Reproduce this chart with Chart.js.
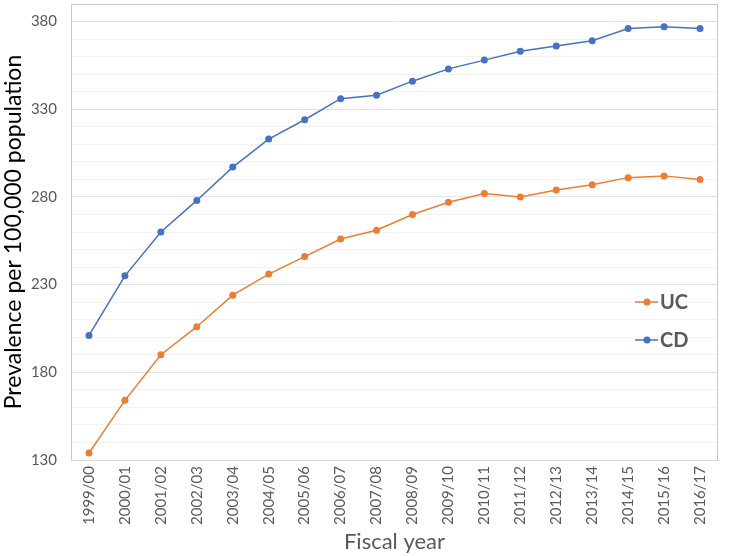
<!DOCTYPE html>
<html>
<head>
<meta charset="utf-8">
<script src="https://cdn.jsdelivr.net/npm/chart.js@4"></script>
<style>
  html, body { margin: 0; padding: 0; background: #fff; }
  #wrap { width: 729px; height: 556px; }
</style>
</head>
<body>
<div id="wrap"><canvas id="chart" width="729" height="556"></canvas></div>
<script>
// Data
var years = ['1999/00', '2000/01', '2001/02', '2002/03', '2003/04', '2004/05', '2005/06', '2006/07', '2007/08',
             '2008/09', '2009/10', '2010/11', '2011/12', '2012/13', '2013/14', '2014/15', '2015/16', '2016/17'];
var ucValues = [134, 164, 190, 206, 224, 236, 246, 256, 261, 270, 277, 282, 280, 284, 287, 291, 292, 290];
var cdValues = [201, 235, 260, 278, 297, 313, 324, 336, 338, 346, 353, 358, 363, 366, 369, 376, 377, 376];
var yMin = 130;
var yMax = 390;
var yLabelStep = 50;

var FONT = 'Lato, "Open Sans", sans-serif';

// border around the plot + the in-plot legend
var framePlugin = {
    id: 'frame',
    afterDraw: function (chart) {
        var ctx = chart.ctx;
        var a = chart.chartArea;
        ctx.save();
        ctx.strokeStyle = '#c8c8c8';
        ctx.lineWidth = 1;
        ctx.beginPath();
        ctx.moveTo(a.left + 0.5, a.bottom);
        ctx.lineTo(a.left + 0.5, a.top + 0.5);
        ctx.lineTo(a.right - 0.5, a.top + 0.5);
        ctx.lineTo(a.right - 0.5, a.bottom);
        ctx.stroke();

        var items = [
            { label: 'UC', color: '#ED7D31', y: 302 },
            { label: 'CD', color: '#4472C4', y: 340 }
        ];
        items.forEach(function (it) {
            ctx.strokeStyle = it.color;
            ctx.lineWidth = 1.5;
            ctx.beginPath();
            ctx.moveTo(635, it.y);
            ctx.lineTo(658, it.y);
            ctx.stroke();
            ctx.fillStyle = it.color;
            ctx.beginPath();
            ctx.arc(647, it.y, 3.5, 0, Math.PI * 2);
            ctx.fill();
            ctx.fillStyle = '#595959';
            ctx.font = 'bold 20px ' + FONT;
            ctx.textBaseline = 'middle';
            ctx.fillText(it.label, 660, it.y + 1);
        });
        ctx.restore();
    }
};

var ctx = document.getElementById('chart').getContext('2d');
var chart = new Chart(ctx, {
    type: 'line',
    data: {
        labels: years,
        datasets: [{
            label: 'UC',
            data: ucValues,
            borderColor: '#ED7D31',
            backgroundColor: '#ED7D31',
            borderWidth: 1.5,
            pointRadius: 3.5,
            pointBorderWidth: 0,
            tension: 0
        }, {
            label: 'CD',
            data: cdValues,
            borderColor: '#4472C4',
            backgroundColor: '#4472C4',
            borderWidth: 1.5,
            pointRadius: 3.5,
            pointBorderWidth: 0,
            tension: 0
        }]
    },
    options: {
        responsive: false,
        animation: false,
        layout: { padding: { top: 1, right: 11, left: 0, bottom: 0 } },
        plugins: {
            legend: { display: false },
            tooltip: { enabled: false }
        },
        scales: {
            x: {
                offset: true,
                grid: { display: false, drawTicks: false },
                border: { color: '#d9d9d9' },
                ticks: {
                    color: '#595959',
                    font: { family: FONT, size: 15 },
                    minRotation: 90,
                    maxRotation: 90,
                    autoSkip: false,
                    padding: 6
                },
                title: {
                    display: true,
                    text: 'Fiscal year',
                    color: '#595959',
                    font: { family: FONT, size: 22 },
                    padding: { top: 4, bottom: 1 }
                },
                afterFit: function (scale) {
                    scale.height = 96;
                    scale.paddingLeft = 0;
                    scale.paddingRight = 0;
                }
            },
            y: {
                min: yMin,
                max: yMax,
                grid: {
                    drawTicks: false,
                    color: function (c) {
                        return (c.tick.value - yMin) % yLabelStep === 0 ? '#e3e3e3' : '#f2f2f2';
                    }
                },
                border: { display: false },
                ticks: {
                    stepSize: 10,
                    autoSkip: false,
                    color: '#595959',
                    font: { family: FONT, size: 15 },
                    padding: 14,
                    callback: function (v) {
                        return (v - yMin) % yLabelStep === 0 && v < yMax ? v : '';
                    }
                },
                title: {
                    display: true,
                    text: 'Prevalence per 100,000 population',
                    color: '#000',
                    font: { family: FONT, size: 23 },
                    padding: { top: 0, bottom: 0 }
                },
                afterFit: function (scale) {
                    scale.width = 71;
                    scale.paddingTop = 0;
                    scale.paddingBottom = 0;
                }
            }
        }
    },
    plugins: [framePlugin]
});
</script>
</body>
</html>
